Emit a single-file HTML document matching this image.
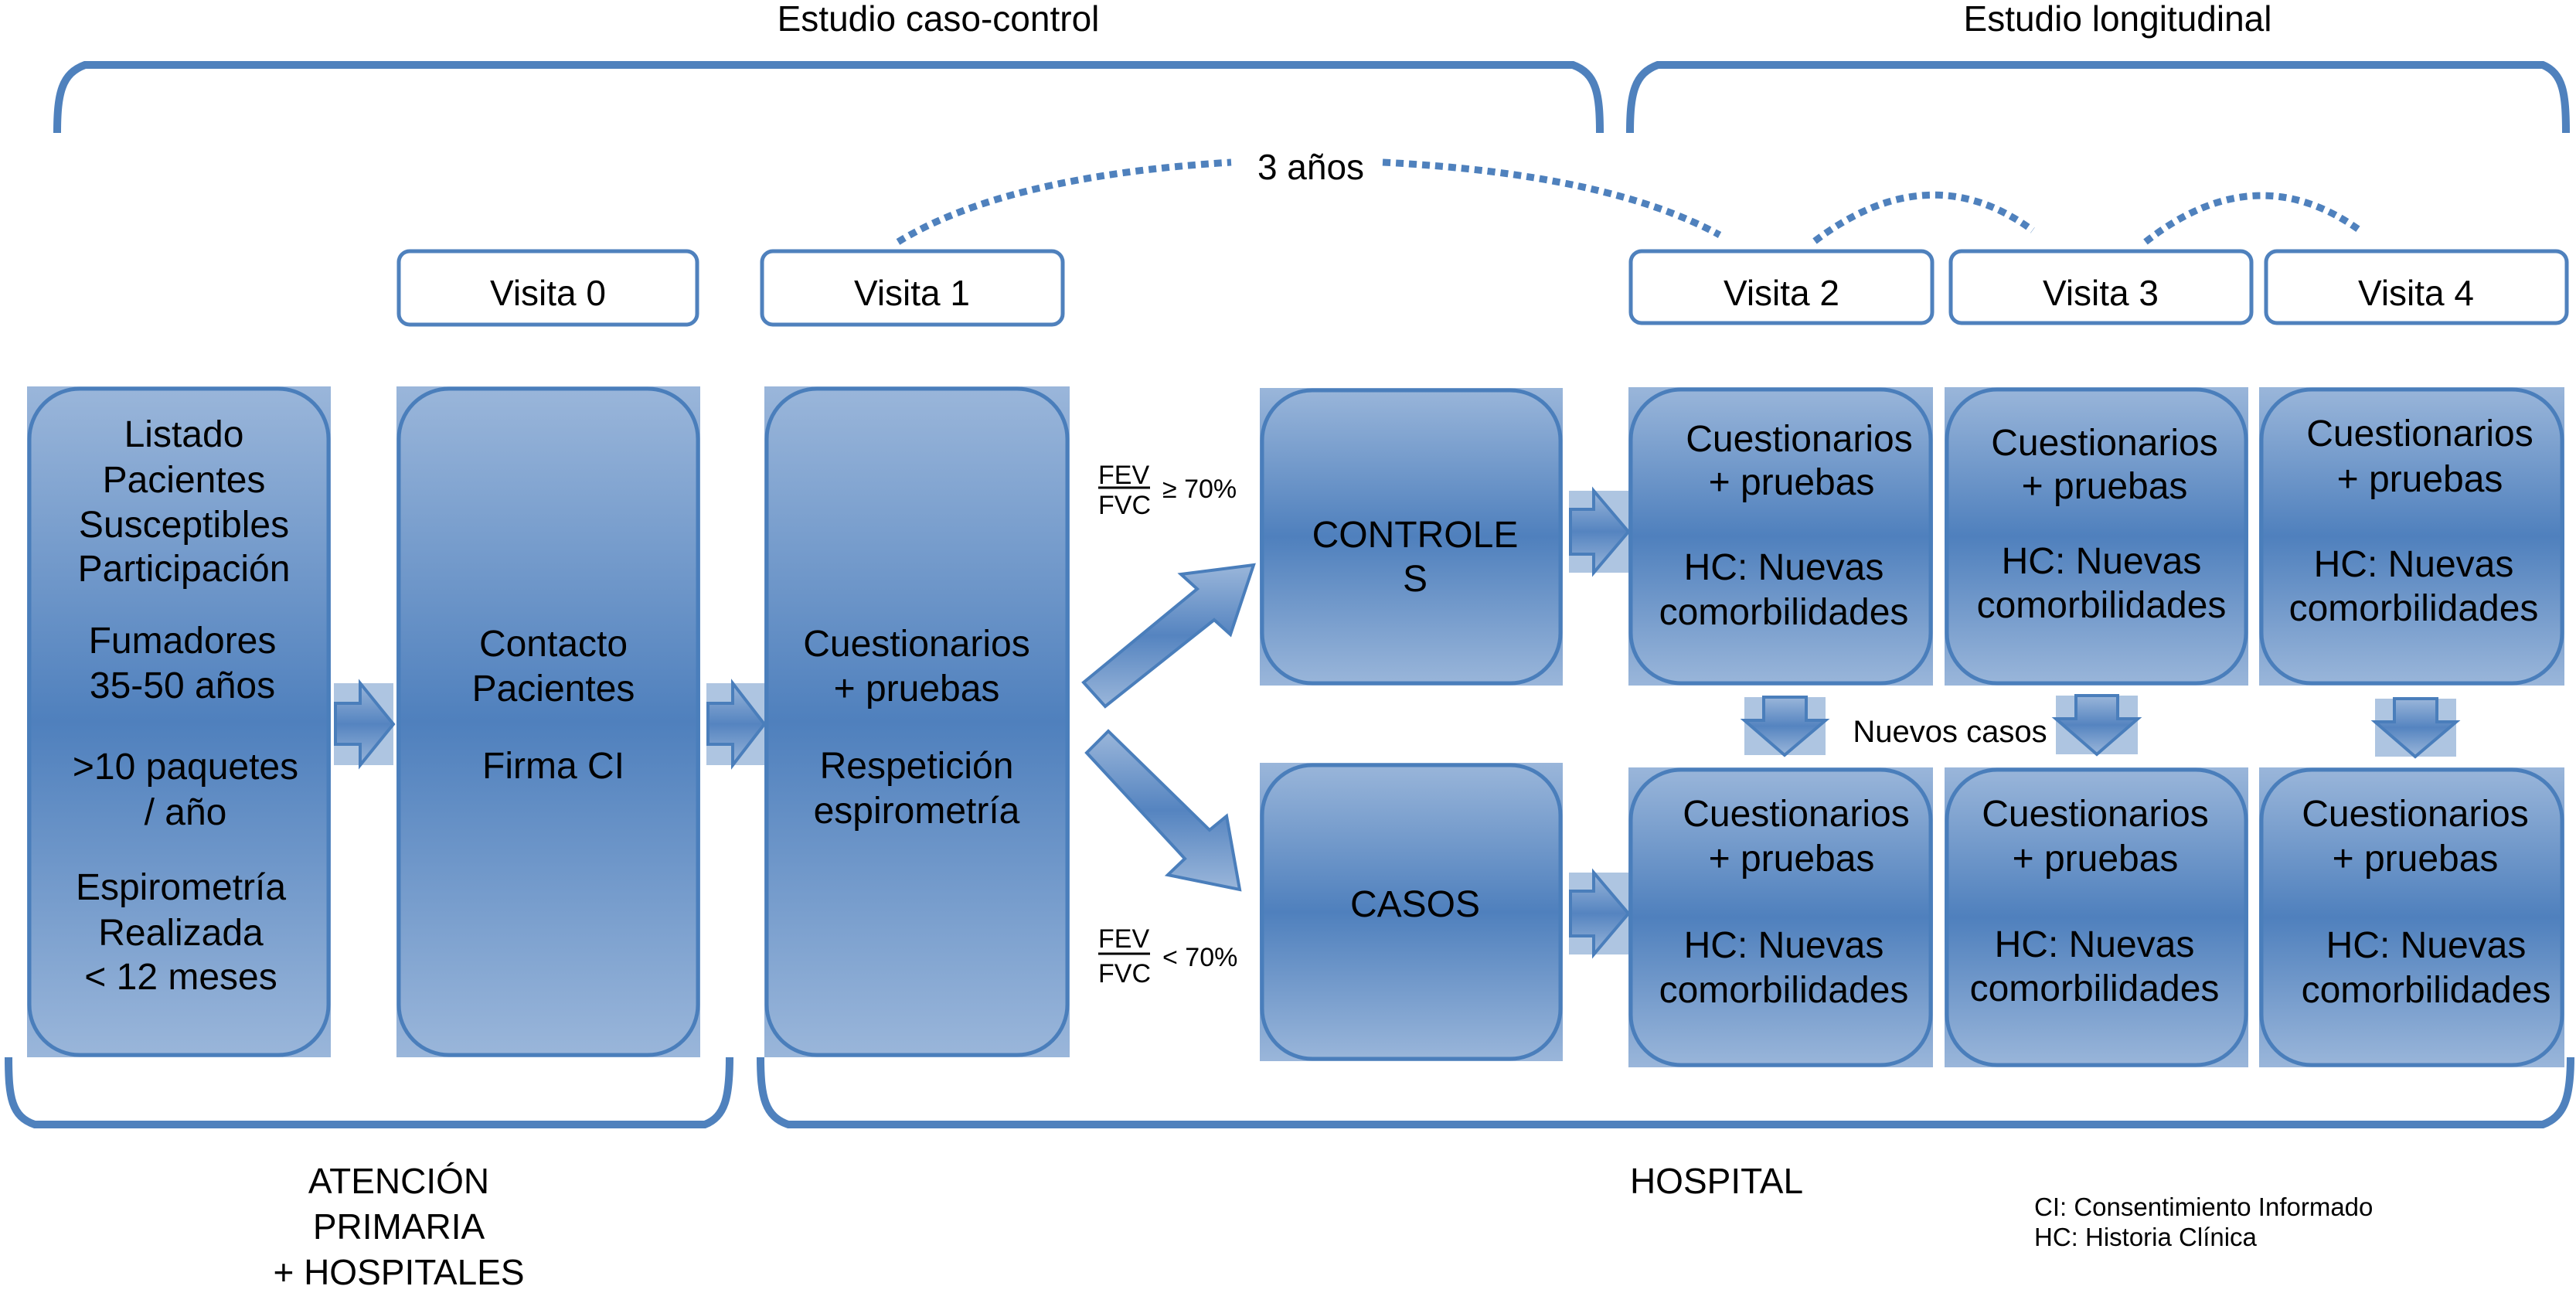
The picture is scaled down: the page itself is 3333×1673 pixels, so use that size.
<!DOCTYPE html>
<html><head><meta charset="utf-8"><style>
html,body{margin:0;padding:0;background:#fff;}
svg{display:block;}
text{font-family:"Liberation Sans",Arial,sans-serif;fill:#000;}
</style></head><body>
<svg width="3333" height="1673" viewBox="0 0 3333 1673" xmlns="http://www.w3.org/2000/svg">
<defs>
<linearGradient id="g" x1="0" y1="0" x2="0" y2="1">
<stop offset="0" stop-color="#9ab6da"/><stop offset="0.5" stop-color="#4f80bd"/><stop offset="1" stop-color="#9ab6da"/>
</linearGradient>
<linearGradient id="gh" x1="0" y1="0" x2="0" y2="1">
<stop offset="0" stop-color="#9ab6da"/><stop offset="0.5" stop-color="#5584c0"/><stop offset="1" stop-color="#9ab6da"/>
</linearGradient>
</defs>
<g fill="none" stroke="#4f81bd" stroke-width="10">
<path d="M74,172 C74,120 80,95 110,84 L2035,84 C2065,95 2070,120 2070,172"/>
<path d="M2109,172 C2109,120 2115,95 2145,84 L3290,84 C3316,95 3320,120 3320,172"/>
<path d="M11,1368 C11,1420 15,1445 45,1455 L912,1455 C938,1445 944,1420 944,1368"/>
<path d="M984,1368 C984,1420 990,1445 1020,1455 L3290,1455 C3318,1445 3326,1420 3326,1368"/>
</g>
<g fill="none" stroke="#4f81bd" stroke-width="9" stroke-dasharray="10 7">
<path d="M1162,313 Q1300,228 1593,210"/>
<path d="M1789,210 Q2080,225 2225,304"/>
<path d="M2348,312 Q2496,200 2630,298"/>
<path d="M2776,313 Q2920,200 3056,300"/>
</g>
<g fill="#fff" stroke="#4f81bd" stroke-width="5">
<rect x="516" y="325" width="386" height="95" rx="14"/>
<rect x="986" y="325" width="389" height="95" rx="14"/>
<rect x="2110" y="325" width="390" height="93" rx="14"/>
<rect x="2524" y="325" width="389" height="93" rx="14"/>
<rect x="2932" y="325" width="389" height="93" rx="14"/>
</g>
<g>
<rect x="35" y="500" width="393" height="868" fill="url(#g)"/>
<rect x="513" y="500" width="393" height="868" fill="url(#g)"/>
<rect x="989" y="500" width="395" height="868" fill="url(#g)"/>
<rect x="1630" y="502" width="392" height="385" fill="url(#g)"/>
<rect x="1630" y="987" width="392" height="386" fill="url(#g)"/>
<rect x="2107" y="501" width="394" height="386" fill="url(#g)"/>
<rect x="2516" y="501" width="393" height="386" fill="url(#g)"/>
<rect x="2923" y="501" width="395" height="386" fill="url(#g)"/>
<rect x="2107" y="993" width="394" height="388" fill="url(#g)"/>
<rect x="2516" y="993" width="393" height="388" fill="url(#g)"/>
<rect x="2923" y="993" width="395" height="388" fill="url(#g)"/>
</g>
<g fill="none" stroke="#4a7ebb" stroke-width="5">
<rect x="38" y="503" width="387" height="862" rx="65"/>
<rect x="516" y="503" width="387" height="862" rx="65"/>
<rect x="992" y="503" width="389" height="862" rx="65"/>
<rect x="1633" y="505" width="386" height="379" rx="65"/>
<rect x="1633" y="990" width="386" height="380" rx="65"/>
<rect x="2110" y="504" width="388" height="380" rx="65"/>
<rect x="2519" y="504" width="387" height="380" rx="65"/>
<rect x="2926" y="504" width="389" height="380" rx="65"/>
<rect x="2110" y="996" width="388" height="382" rx="65"/>
<rect x="2519" y="996" width="387" height="382" rx="65"/>
<rect x="2926" y="996" width="389" height="382" rx="65"/>
</g>
<!-- right arrows -->
<g stroke="#4a7ebb" stroke-width="4" fill="url(#gh)">
<rect x="432" y="884" width="77" height="106" stroke="none" fill="#9ab6da" opacity="0.8"/>
<polygon points="434,910 466,910 466,884 509,937 466,990 466,963 434,963"/>
<rect x="914" y="884" width="75" height="106" stroke="none" fill="#9ab6da" opacity="0.8"/>
<polygon points="916,910 948,910 948,884 989,937 948,990 948,963 916,963"/>
<rect x="2030" y="635" width="77" height="106" stroke="none" fill="#9ab6da" opacity="0.8"/>
<polygon points="2032,659 2062,659 2062,635 2107,688 2062,741 2062,717 2032,717"/>
<rect x="2030" y="1129" width="77" height="106" stroke="none" fill="#9ab6da" opacity="0.8"/>
<polygon points="2032,1153 2062,1153 2062,1129 2107,1182 2062,1235 2062,1211 2032,1211"/>
<!-- down arrows -->
<rect x="2257" y="902" width="105" height="75" stroke="none" fill="#9ab6da" opacity="0.8"/>
<polygon points="2282,902 2337,902 2337,932 2362,932 2309,977 2257,932 2282,932"/>
<rect x="2660" y="900" width="106" height="76" stroke="none" fill="#9ab6da" opacity="0.8"/>
<polygon points="2686,900 2740,900 2740,930 2766,930 2713,976 2660,930 2686,930"/>
<rect x="3073" y="904" width="105" height="75" stroke="none" fill="#9ab6da" opacity="0.8"/>
<polygon points="3098,904 3153,904 3153,934 3178,934 3125,979 3073,934 3098,934"/>
<!-- diagonal -->
<polygon points="1402,883 1549,762 1528,743 1622,731 1592,821 1571,802 1430,914"/>
<polygon points="1434,946 1565,1074 1587,1056 1604,1151 1511,1132 1533,1111 1406,974"/>
</g>
<g font-size="46" text-anchor="middle">
<text x="1214" y="40">Estudio caso-control</text>
<text x="2740" y="40">Estudio longitudinal</text>
<text x="1696" y="232">3 años</text>
<text x="709" y="395">Visita 0</text>
<text x="1180" y="395">Visita 1</text>
<text x="2305" y="395">Visita 2</text>
<text x="2718" y="395">Visita 3</text>
<text x="3126" y="395">Visita 4</text>
</g>
<g font-size="48" text-anchor="middle">
<text x="238" y="578">Listado</text>
<text x="238" y="637">Pacientes</text>
<text x="238" y="695">Susceptibles</text>
<text x="238" y="752">Participación</text>
<text x="236" y="845">Fumadores</text>
<text x="236" y="903">35-50 años</text>
<text x="240" y="1008">&gt;10 paquetes</text>
<text x="240" y="1067">/ año</text>
<text x="234" y="1164">Espirometría</text>
<text x="234" y="1223">Realizada</text>
<text x="234" y="1280">&lt; 12 meses</text>
<text x="716" y="849">Contacto</text>
<text x="716" y="907">Pacientes</text>
<text x="716" y="1007">Firma CI</text>
<text x="1186" y="849">Cuestionarios</text>
<text x="1186" y="907">+ pruebas</text>
<text x="1186" y="1007">Respetición</text>
<text x="1186" y="1065">espirometría</text>
<text x="1831" y="708">CONTROLE</text>
<text x="1831" y="765">S</text>
<text x="1831" y="1186">CASOS</text>
<text x="2328" y="584">Cuestionarios</text>
<text x="2318" y="640">+ pruebas</text>
<text x="2308" y="750">HC: Nuevas</text>
<text x="2308" y="808">comorbilidades</text>
<text x="2723" y="589">Cuestionarios</text>
<text x="2723" y="645">+ pruebas</text>
<text x="2719" y="742">HC: Nuevas</text>
<text x="2719" y="799">comorbilidades</text>
<text x="3131" y="577">Cuestionarios</text>
<text x="3131" y="636">+ pruebas</text>
<text x="3123" y="746">HC: Nuevas</text>
<text x="3123" y="803">comorbilidades</text>
<text x="2324" y="1069">Cuestionarios</text>
<text x="2318" y="1127">+ pruebas</text>
<text x="2308" y="1239">HC: Nuevas</text>
<text x="2308" y="1297">comorbilidades</text>
<text x="2711" y="1069">Cuestionarios</text>
<text x="2711" y="1127">+ pruebas</text>
<text x="2710" y="1238">HC: Nuevas</text>
<text x="2710" y="1295">comorbilidades</text>
<text x="3125" y="1069">Cuestionarios</text>
<text x="3125" y="1127">+ pruebas</text>
<text x="3139" y="1239">HC: Nuevas</text>
<text x="3139" y="1297">comorbilidades</text>
</g>
<text x="2523" y="960" font-size="40" text-anchor="middle">Nuevos casos</text>
<g font-size="34">
<text x="1421" y="626">FEV</text>
<text x="1421" y="665">FVC</text>
<text x="1504" y="644">≥ 70%</text>
<text x="1421" y="1226">FEV</text>
<text x="1421" y="1271">FVC</text>
<text x="1504" y="1250">&lt; 70%</text>
</g>
<line x1="1421" y1="631" x2="1488" y2="631" stroke="#000" stroke-width="3"/>
<line x1="1421" y1="1234" x2="1488" y2="1234" stroke="#000" stroke-width="3"/>
<g font-size="46" text-anchor="middle">
<text x="516" y="1544">ATENCIÓN</text>
<text x="516" y="1603">PRIMARIA</text>
<text x="516" y="1662">+ HOSPITALES</text>
<text x="2221" y="1544">HOSPITAL</text>
</g>
<g font-size="33">
<text x="2632" y="1573">CI: Consentimiento Informado</text>
<text x="2632" y="1612">HC: Historia Clínica</text>
</g>
</svg>
</body></html>
